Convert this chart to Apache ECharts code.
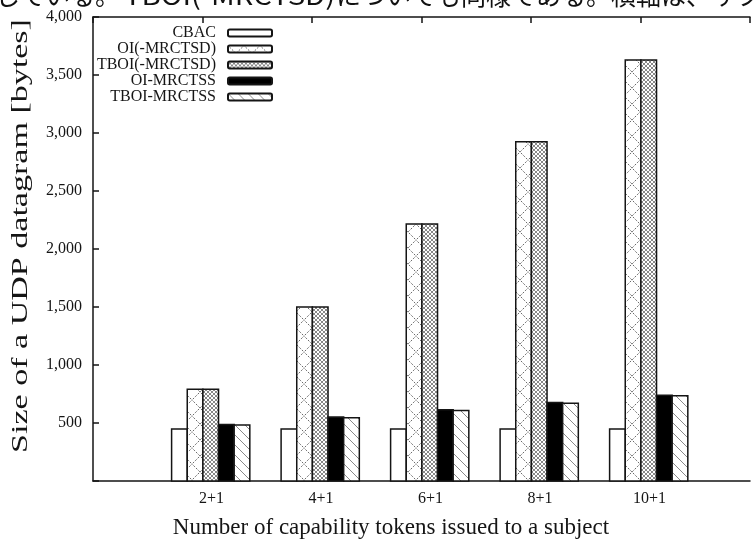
<!DOCTYPE html>
<html>
<head>
<meta charset="utf-8">
<script src="https://cdn.jsdelivr.net/npm/echarts@6/dist/echarts.min.js"></script>
<style>
html, body { margin: 0; padding: 0; background: #fff; }
#chart { width: 753px; height: 546px; }
</style>
</head>
<body>
<div id="chart"></div>
<script>
// Datagram size per scheme, one value per token configuration
const categories = ['2+1', '4+1', '6+1', '8+1', '10+1'];
const seriesNames = ['CBAC', 'OI(-MRCTSD)', 'TBOI(-MRCTSD)', 'OI-MRCTSS', 'TBOI-MRCTSS'];
const cbac = [448, 448, 448, 448, 448];
const oiMrctsd = [790, 1500, 2215, 2925, 3630];
const tboiMrctsd = [790, 1500, 2215, 2925, 3630];
const oiMrctss = [488, 551, 614, 677, 740];
const tboiMrctss = [483, 545, 607, 670, 734];
const yMin = 0, yMax = 4000, yStep = 500;

const SERIF = '"Liberation Serif", "Times New Roman", serif';
const JP = '"Noto Sans CJK JP", sans-serif';
const INK = '#151515';
const BAR_W = 1 / 7;          // clustered histogram: 5 boxes + gap of 2
const GROUP_SHIFT = 0.075;    // cluster centre relative to its tic

// Hatch tiles used as bar fills
function tile(w, h, draw) {
  const c = document.createElement('canvas');
  c.width = w; c.height = h;
  const g = c.getContext('2d');
  g.fillStyle = '#ffffff';
  g.fillRect(0, 0, w, h);
  draw(g, w, h);
  return { image: c, repeat: 'repeat' };
}
function diag(g, w, h, dir) {
  g.beginPath();
  for (let k = -1; k <= 1; k++) {
    if (dir > 0) { g.moveTo(k * w - 1, -1); g.lineTo(k * w + w + 1, h + 1); }
    else { g.moveTo(k * w + w + 1, -1); g.lineTo(k * w - 1, h + 1); }
  }
  g.stroke();
}
const fills = [
  '#ffffff',
  tile(16, 16, (g, w, h) => {
    g.strokeStyle = '#6a6a6a'; g.lineWidth = 1; g.setLineDash([2, 1.5]);
    diag(g, w, h, 1); diag(g, w, h, -1);
  }),
  tile(4, 4, (g, w, h) => {
    g.strokeStyle = '#7a7a7a'; g.lineWidth = 0.9;
    diag(g, w, h, 1); diag(g, w, h, -1);
  }),
  '#000000',
  tile(10, 10, (g, w, h) => {
    g.strokeStyle = '#8a8a8a'; g.lineWidth = 1;
    diag(g, w, h, 1);
  })
];
const seriesValues = [cbac, oiMrctsd, tboiMrctsd, oiMrctss, tboiMrctss];

function makeSeries(idx) {
  const fill = fills[idx];
  return {
    type: 'custom',
    name: seriesNames[idx],
    xAxisIndex: 0,
    yAxisIndex: 0,
    data: seriesValues[idx].map((v, i) => [i, v]),
    encode: { x: 0, y: 1 },
    itemStyle: { color: fill, borderColor: INK, borderWidth: 1.5 },
    renderItem(params, api) {
      const i = api.value(0);
      const v = api.value(1);
      const left = i + GROUP_SHIFT + (idx - 2.5) * BAR_W;
      const p0 = api.coord([left, v]);
      const p1 = api.coord([left + BAR_W, 0]);
      return {
        type: 'rect',
        shape: { x: p0[0], y: p0[1], width: p1[0] - p0[0], height: p1[1] - p0[1] },
        style: { fill: fill, stroke: INK, lineWidth: 1.5 }
      };
    }
  };
}

const chart = echarts.init(document.getElementById('chart'), null, { renderer: 'canvas' });
chart.setOption({
  animation: false,
  backgroundColor: '#ffffff',
  grid: { left: 93, right: -11, top: 17, bottom: 65 },
  legend: {
    data: seriesNames,
    orient: 'vertical',
    align: 'right',
    right: 480,
    top: 25,
    padding: 0,
    itemGap: 0,
    itemWidth: 44,
    itemHeight: 7,
    icon: 'roundRect',
    selectedMode: false,
    textStyle: { fontFamily: SERIF, fontSize: 16, color: INK, lineHeight: 12, padding: [0, 7, 0, 0] }
  },
  xAxis: [
    {
      type: 'value', position: 'bottom', min: -1, max: 5, interval: 1,
      axisLine: { show: true, onZero: false, lineStyle: { color: INK, width: 1.5 } },
      axisTick: { show: false },
      splitLine: { show: false },
      axisLabel: {
        fontFamily: SERIF, fontSize: 16, color: INK, margin: 10,
        padding: [0, 0, 0, 18],
        formatter: v => (categories[v] !== undefined ? categories[v] : '')
      }
    },
    {
      type: 'value', position: 'top', min: -1, max: 5, interval: 1,
      axisLine: { show: true, onZero: false, lineStyle: { color: INK, width: 1.5 } },
      axisTick: { show: true, inside: true, length: 6, lineStyle: { color: INK, width: 1.5 } },
      splitLine: { show: false },
      axisLabel: { show: false }
    }
  ],
  yAxis: {
    type: 'value', min: yMin, max: yMax, interval: yStep,
    axisLine: { show: true, onZero: false, lineStyle: { color: INK, width: 1.5 } },
    axisTick: { show: true, inside: true, length: 6, lineStyle: { color: INK, width: 1.5 } },
    splitLine: { show: false },
    axisLabel: {
      fontFamily: SERIF, fontSize: 16, color: INK, margin: 11,
      formatter: v => (v === 0 ? '' : v.toLocaleString('en-US'))
    }
  },
  graphic: [
    {
      type: 'text', x: 21, y: 236, rotation: Math.PI / 2, scaleX: 1.48,
      style: { text: 'Size of a UDP datagram [bytes]', font: '23px ' + SERIF, fill: INK, align: 'center', verticalAlign: 'middle' }
    },
    {
      type: 'text', x: 391, y: 528,
      style: { text: 'Number of capability tokens issued to a subject', font: '23px ' + SERIF, fill: INK, align: 'center', verticalAlign: 'middle' }
    },
    // running text of the page above the figure, clipped by the top edge
    {
      type: 'text', x: -5, y: -5,
      style: { text: 'している。', font: '25px ' + JP, fill: '#111', align: 'left', verticalAlign: 'middle' }
    },
    {
      type: 'text', x: 124, y: -5, scaleX: 1.17,
      style: { text: 'TBOI(-MRCTSD)', font: '25px ' + JP, fill: '#111', align: 'left', verticalAlign: 'middle' }
    },
    {
      type: 'text', x: 336, y: -5,
      style: { text: 'についても同様である。横軸は、サブ', font: '25px ' + JP, fill: '#111', align: 'left', verticalAlign: 'middle' }
    }
  ],
  series: seriesValues.map((_, i) => makeSeries(i))
});
</script>
</body>
</html>
